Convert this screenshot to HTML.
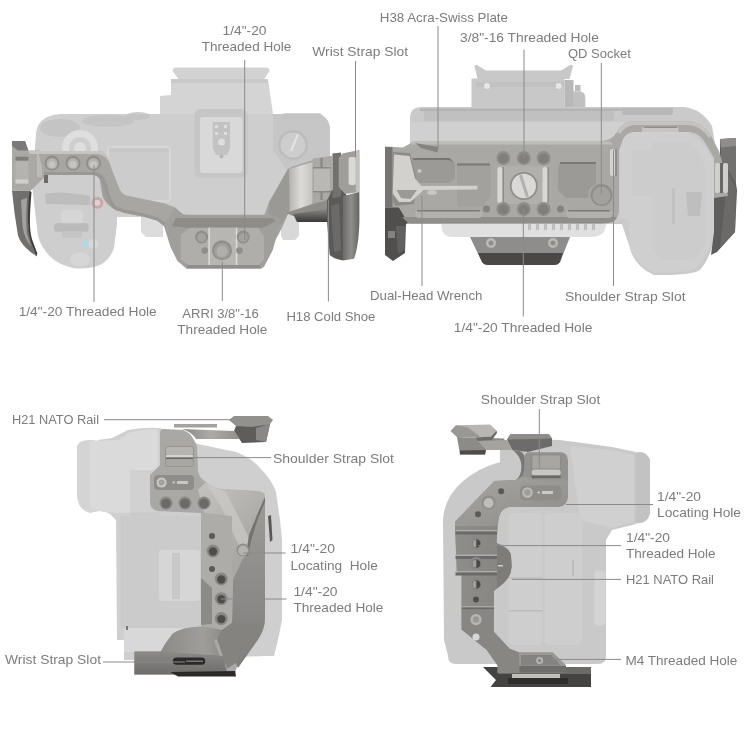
<!DOCTYPE html>
<html><head><meta charset="utf-8"><title>Cage diagram</title>
<style>
html,body{margin:0;padding:0;background:#fff;}
body{width:750px;height:750px;overflow:hidden;font-family:"Liberation Sans",sans-serif;}
svg{display:block;}
</style></head><body>
<svg width="750" height="750" viewBox="0 0 750 750">
<rect width="750" height="750" fill="#fff"/>
<g id="tl">
<path d="M172.5,71 Q172.5,67.5 176,67.5 L266,67.5 Q269.5,67.5 269.5,71 L263,81 L180,81 Z" fill="#d2d2d2"/>
<path d="M171,79 L268,79 L273,114 L160,114 L160,96 L171,95 Z" fill="#d4d4d4"/>
<rect x="171" y="79" width="97" height="4" fill="#c2c2c2" opacity="0.6"/>
<path d="M36,134 Q37,116 60,114 L316,114 Q330,115 330,132 L330,158 L300,170 L300,217 L117,217 L117,224 L114,248 Q110,260 100,265 Q86,270 73,268 Q60,265 53,259 Q42,250 38,236 L32,185 Z" fill="#cecece"/>
<ellipse cx="60" cy="128" rx="20" ry="9" fill="#c2c2c2" opacity="0.8"/>
<ellipse cx="108" cy="121" rx="26" ry="6" fill="#c2c2c2" opacity="0.8"/>
<ellipse cx="138" cy="116" rx="12" ry="4" fill="#c2c2c2" opacity="0.8"/>
<circle cx="80" cy="148" r="18" fill="#dedede"/>
<circle cx="80" cy="148" r="11" fill="#cecece"/>
<circle cx="80" cy="148" r="6" fill="#dedede"/>
<path d="M45,194 Q60,190 90,196 L90,205 L46,204 Z" fill="#bdbdbd"/>
<rect x="60.7" y="210" width="22.6" height="14" rx="5" fill="#d6d6d6"/>
<rect x="54" y="223.3" width="34.7" height="8.5" rx="3" fill="#bababa"/>
<rect x="62" y="231" width="20" height="7" rx="3" fill="#c4c4c4"/>
<circle cx="97.3" cy="202.7" r="6" fill="#c9a8a8"/>
<circle cx="97.3" cy="202.7" r="3" fill="#e6cfcf"/>
<circle cx="84.7" cy="243.3" r="3" fill="#a8dcee"/>
<ellipse cx="93.3" cy="244" rx="5" ry="5" fill="#d8d8d8"/>
<ellipse cx="80" cy="259.5" rx="10" ry="7" fill="#d6d6d6"/>
<rect x="107" y="146" width="64" height="56" rx="4" fill="#d6d6d6"/><rect x="109" y="148" width="60" height="52" rx="3" fill="#cccccc"/>
<rect x="109" y="148" width="60" height="4" rx="2" fill="#c2c2c2" opacity="0.5"/>
<rect x="194.5" y="109" width="53" height="69" rx="6" fill="#c6c6c6"/>
<rect x="200" y="117" width="42.5" height="56" rx="3" fill="#d9d9d9"/>
<path d="M212.7,122 L230,122 L230,148 L227,155 L216,155 L212.7,148 Z" fill="#c2c2c2"/>
<rect x="215" y="125" width="3" height="3" fill="#dedede"/><rect x="224" y="125" width="3" height="3" fill="#dedede"/>
<rect x="215" y="132" width="3" height="3" fill="#dedede"/><rect x="224" y="132" width="3" height="3" fill="#dedede"/>
<circle cx="221.5" cy="142" r="3.5" fill="#dedede"/>
<circle cx="221.5" cy="156.5" r="2" fill="#b6b6b6"/>
<path d="M273,114 L316,114 Q330,115 330,132 L330,158 L300,170 L288,172 L273,150 Z" fill="#c6c6c6"/>
<circle cx="293" cy="145" r="15" fill="#bcbcbc"/>
<circle cx="293" cy="145" r="12.5" fill="#cdcdcd"/>
<line x1="291" y1="151" x2="298" y2="134" stroke="#e4e4e4" stroke-width="2"/>
<rect x="282" y="113" width="40" height="6" rx="3" fill="#c2c2c2" opacity="0.7"/>
<path d="M141,217 L163,217 L163,237 L146,237 L141,232 Z" fill="#dcdcdc"/>
<path d="M281,212 L299,212 L299,236 L295,240 L283,240 L281,236 Z" fill="#d8d8d8"/>
<path d="M12,190.5 L31,190.5 Q29,205 28.4,221.7 Q28.6,232 31,239 L37,254.6 L37,256.5 Q30,252 25.8,247.7 Q20,242 18,235.5 L14.5,213 Z" fill="#716f6d"/>
<path d="M21,200 L27,198 Q25.5,222 27,234 L31,246 Q24,238 22.5,226 Z" fill="#a3a19e"/>
<path d="M29.5,192 L31.5,192 Q29.5,215 30,226 Q30.5,236 33,242 L37.5,254 L36,254.5 L31,242 Q28,232 28,222 Q28,205 29.5,192 Z" fill="#3c3a38"/>
<path d="M12,141 L25,141 L28.4,150.6 L40,150.6 L44.5,177 L31,190.5 L12,190.5 Z" fill="#aaa9a6"/>
<path d="M12,141 L25,141 L28.4,150.6 L18,150.6 L12,146 Z" fill="#7c7a78"/>
<rect x="15.4" y="156.7" width="13" height="26.8" rx="1.5" fill="#b4b3b0"/>
<rect x="15.4" y="156.7" width="13" height="4" fill="#807e7b"/>
<rect x="15.4" y="179.5" width="13" height="4" fill="#d0cfcc"/>
<rect x="37" y="151" width="5" height="26" fill="#c0bfbc" opacity="0.8"/>
<path d="M28,151 L100,151 Q105,152 108,158 L112,170 L120,190 Q122,194 125.3,195.3 L164,203.3 L174.7,207.3 L182.7,214 L190,216 L190,240 L170.7,236.7 L164,226 L157.3,220.7 L144,216.7 L124,212.7 L115,210 Q109,205 107,196 L103,184 Q100,176 94,175 L44,175 L38,151 Z" fill="#a7a6a3"/>
<path d="M28,151 L100,151 Q105,152 108,158 L110,164 Q106,155 98,154 L30,154 Z" fill="#c6c5c2"/>
<path d="M44,175 L94,175 Q99,176 100,180.7 L102.7,196.7 Q106,204 113.3,208.7 L124,212.7 L144,216.7 L157.3,220.7 L164,226 L166,223 L158,217.5 L144,213.5 L125,209.5 L117,207 Q112,203 110,195 L106,182 Q103,172.5 95,172 L44,172 Z" fill="#969592" opacity="0.85"/>
<rect x="44" y="175" width="4" height="8" fill="#6e6c6a"/>
<circle cx="52" cy="163" r="7.5" fill="#8f8e8b"/>
<circle cx="52" cy="163.5" r="5.5" fill="#b3b2af"/>
<circle cx="52" cy="164.5" r="3.5" fill="#c6c5c2"/>
<circle cx="73" cy="163" r="7.5" fill="#8f8e8b"/>
<circle cx="73" cy="163.5" r="5.5" fill="#b3b2af"/>
<circle cx="73" cy="164.5" r="3.5" fill="#c6c5c2"/>
<circle cx="93.5" cy="163" r="7.5" fill="#8f8e8b"/>
<circle cx="93.5" cy="163.5" r="5.5" fill="#b3b2af"/>
<circle cx="93.5" cy="164.5" r="3.5" fill="#c6c5c2"/>
<defs><linearGradient id="tlP" x1="0" y1="0" x2="1" y2="0"><stop offset="0" stop-color="#6e6c6a"/><stop offset="0.5" stop-color="#908e8b"/><stop offset="1" stop-color="#676563"/></linearGradient><linearGradient id="tlS" x1="0" y1="0" x2="0" y2="1"><stop offset="0" stop-color="#8a8886"/><stop offset="1" stop-color="#3a3836"/></linearGradient><linearGradient id="tlH" x1="0" y1="0" x2="1" y2="0"><stop offset="0" stop-color="#b4b3b0"/><stop offset="0.5" stop-color="#dcdbd9"/><stop offset="1" stop-color="#c4c3c0"/></linearGradient></defs>
<path d="M264,216 L269,202 L288,169 Q292,166 298,165 L319,158 L332,156 L332,200 L312,206 L300,210 L288,214 L282,228 L270,250 Z" fill="#a5a4a1"/>
<path d="M269,203 L288,169 L290,169 L289,212 L281,224 L268,228 Z" fill="#9a9996"/>
<path d="M289,169 L312.6,162 L312.6,206 L290,212 Z" fill="url(#tlH)"/>
<path d="M312.6,158.5 L331.5,156 L331.5,199.4 L312.6,204 Z" fill="#aaa9a6"/>
<path d="M314,168 L330,166 L330,190 L314,193 Z" fill="#b9b8b5"/>
<rect x="313" y="167" width="18" height="1.5" fill="#8a8886"/>
<rect x="313" y="191" width="18" height="1.5" fill="#8a8886"/>
<rect x="320.5" y="158" width="2" height="9" fill="#85837f"/>
<rect x="320.5" y="192" width="2" height="8" fill="#85837f"/>
<path d="M286,213 L312.6,204 L332,199 L332,212 L293,216 Z" fill="#8f8d8a"/>
<path d="M332,190 L346,190 L346,200 L327,201 Z" fill="#5c5a58"/>
<path d="M293,214 L327,209 L327,222 L297,222 Z" fill="url(#tlS)"/>
<path d="M332.4,153.5 L341,152.5 L341,197 L332.4,199 Z" fill="#73716f"/>
<path d="M338.7,158 L342.3,153.5 L359.4,150 L359.4,192 L345,194 L338.7,186.8 Z" fill="#a09e9b"/>
<rect x="348.6" y="157" width="7.2" height="28" rx="2" fill="#dad9d7"/>
<rect x="355.8" y="151" width="3.6" height="41" fill="#c2c1be"/>
<path d="M327,199.4 L343,196 L343,260.5 Q334,259 329.7,255 L327,221 Z" fill="#5c5a58"/>
<path d="M343,196 L359.4,192 L359.4,221 Q359,240 355.8,253.3 L354,258.7 L343,260.5 Z" fill="url(#tlP)"/>
<path d="M331,206 L339,203 L341,250 L334,252 Z" fill="#6c6a68"/>
<path d="M164,226 L174.7,207.3 L182.7,214.7 L271,214.7 L281.3,219 L272.7,250.3 L264,266.7 Q262,268.5 258.8,268.5 L187.7,268.5 Q185,268 184.3,266.7 L177.3,260.7 L170.4,246.8 Z" fill="#a09f9c"/>
<path d="M176,218 L272,218 L276,221 L262,228 L188,228 L172,226 Z" fill="#8d8c89"/>
<path d="M190.3,227.7 L258,227.7 L264,236.4 L264,259 L258.8,265 L187.7,265 L180.8,259 L180.8,234.7 Z" fill="#afaeab"/>
<path d="M187.7,265 L258.8,265 L262,268.5 L186,268.5 Z" fill="#8f8e8b"/>
<rect x="209.4" y="227.7" width="27" height="37.3" fill="#b7b6b3"/>
<rect x="208.4" y="227.7" width="1.5" height="37.3" fill="#dddcda"/>
<rect x="235.8" y="227.7" width="1.5" height="37.3" fill="#dddcda"/>
<circle cx="201.6" cy="237" r="6.5" fill="#8f8e8b"/>
<circle cx="201.6" cy="237.5" r="4.5" fill="#a3a29f"/>
<circle cx="243.2" cy="237" r="6.5" fill="#8f8e8b"/>
<circle cx="243.2" cy="237.5" r="4.5" fill="#a3a29f"/>
<circle cx="222" cy="250.3" r="10" fill="#8f8e8b"/>
<circle cx="222" cy="250.8" r="8" fill="#a09f9c"/>
<circle cx="222" cy="251.3" r="5.5" fill="#b0afac"/>
<circle cx="204.7" cy="250.6" r="3.3" fill="#8f8e8b"/>
<circle cx="239.4" cy="250.6" r="3.3" fill="#8f8e8b"/>
</g>
<g id="tr">
<path d="M474.5,66 Q475,64.5 477,65 L486,70.5 L561,70.5 L570,65 Q572.5,64.5 573,66 L569.5,79 L477.5,79 Z" fill="#c8c8c8"/>
<rect x="471.5" y="78.5" width="93" height="29" fill="#c8c8c8"/>
<rect x="564.5" y="80" width="9" height="27.5" fill="#b8b8b8"/>
<path d="M573,91.3 L580,91.3 Q585.3,92 585.3,98 L585.3,107 L573,107 Z" fill="#c0c0c0"/>
<rect x="575" y="85" width="5.5" height="6" fill="#bcbcbc"/>
<rect x="476" y="82" width="88" height="5" fill="#bebebe" opacity="0.7"/>
<circle cx="487" cy="86" r="3" fill="#e6e6e6"/>
<circle cx="558.7" cy="86" r="3" fill="#e6e6e6"/>
<path d="M410,118 Q410,107 422,107 L684,107 Q702,109 712,126 L716,150 L716,215 Q716,252 700,270 Q692,275 662,275 L654,275 Q634,266 630,248 L622,224 L410,224 Z" fill="#cacaca"/>
<rect x="424" y="110" width="190" height="11" fill="#c0c0c0"/>
<rect x="420" y="108.5" width="210" height="2.5" fill="#b4b4b4"/>
<rect x="622" y="108" width="51" height="7" rx="2" fill="#b8b8b8"/>
<rect x="497" y="127" width="98" height="4" fill="#b6b6b6"/>
<rect x="410" y="122" width="280" height="19" fill="#d0d0d0"/>
<path d="M620,150 Q622,136 636,134 L688,133 Q704,140 714,163 L714,232 Q708,260 691,271 L655,273 Q637,266 630,248 L628,219 L620,219 Z" fill="#cfcfcf"/>
<path d="M652,142 L690,142 Q706,156 706,180 L706,240 Q702,256 690,260 L660,260 Q652,250 652,236 L652,196 L632,196 L632,150 L652,150 Z" fill="#cacaca" opacity="0.7"/>
<path d="M686,192 L702,192 L700,216 L688,216 Z" fill="#bebebe"/>
<rect x="672" y="188" width="3" height="36" fill="#bebebe" opacity="0.7"/>
<path d="M441,222 L607,222 L604,232 Q600,237 590,237 L452,237 Q444,237 442,230 Z" fill="#e0e0e0"/>
<rect x="528" y="224" width="3" height="6" fill="#bebebe"/>
<rect x="536" y="224" width="3" height="6" fill="#bebebe"/>
<rect x="544" y="224" width="3" height="6" fill="#bebebe"/>
<rect x="552" y="224" width="3" height="6" fill="#bebebe"/>
<rect x="560" y="224" width="3" height="6" fill="#bebebe"/>
<rect x="568" y="224" width="3" height="6" fill="#bebebe"/>
<rect x="576" y="224" width="3" height="6" fill="#bebebe"/>
<rect x="584" y="224" width="3" height="6" fill="#bebebe"/>
<rect x="592" y="224" width="3" height="6" fill="#bebebe"/>
<path d="M470,237 L570,237 L560,262 Q558,265 554,265 L488,265 Q484,265 482,262 Z" fill="#8f8d8b"/>
<path d="M478,253 L563,253 L560,262 Q558,265 554,265 L488,265 Q484,265 482,262 Z" fill="#4a4846"/>
<circle cx="491" cy="243" r="5" fill="#bab9b6"/>
<circle cx="553" cy="243" r="5" fill="#bab9b6"/>
<circle cx="491" cy="243" r="2.5" fill="#8f8e8b"/>
<circle cx="553" cy="243" r="2.5" fill="#8f8e8b"/>
<path d="M720,139 L736,138 L736,184 L737,190 L735,232 L717,252 L711,255 L714,232 L714,194 L720,186 Z" fill="#5f5d5b"/>
<path d="M720,139 L736,138 L736,146 L721,148 Z" fill="#8f8d8a"/>
<path d="M721,148 L736,146 L736,184 L728,170 L721,186 Z" fill="#73716f"/>
<path d="M728,172 L736,188 L735,232 L720,248 Z" fill="#6c6a68"/>
<path d="M385,207 L399,207 L409,223 L406,224 L405,253 L393,261 L385,255 Z" fill="#514f4d"/>
<rect x="388" y="231" width="7" height="7" fill="#84827f"/>
<path d="M396,226 L405,226 L405,250 L398,254 Z" fill="#62605e"/>
<path d="M600,141 Q612,141 617,132 Q622,122 632,121.5 L691,121.5 Q704,124 711,136 L719,151 L722,161 L728,196 L714,198 L714,158 L704,141 Q698,132 688,132 L634,132 Q626,133 623,139 L619,150 L619,212 L600,212 Z" fill="#a9a8a5"/>
<path d="M617,132 Q622,122 632,121.5 L691,121.5 Q704,124 711,136 L709,138 Q702,127 690,125 L634,125 Q625,126 620,134 Z" fill="#c4c3c0"/>
<path d="M642,129 Q642,126.5 646,126.5 L675,126.5 Q678.5,126.5 678.5,129 L678.5,132 L642,132 Z" fill="#c6c5c2"/>
<rect x="644" y="126.5" width="33" height="1.5" fill="#8f8e8b"/>
<rect x="715" y="163" width="5" height="30" rx="2" fill="#d0cfcc"/>
<rect x="720" y="163" width="3" height="30" fill="#6a6866"/>
<rect x="723" y="163" width="5" height="30" rx="2" fill="#d0cfcc"/>
<path d="M385,146.5 L403,147.5 L414,141.5 L610,141.5 L619,150 L619,211 Q617,223.5 603,223.5 L408.5,223.5 L399,207.5 L385,207.5 Z" fill="#a9a8a5"/>
<path d="M414,141.5 L610,141.5 L613,144.5 L411,144.5 Z" fill="#bebdba"/>
<path d="M402,217 L617,217 Q615,223.5 603,223.5 L408.5,223.5 Z" fill="#8f8e8b"/>
<rect x="385" y="147" width="7.5" height="60" fill="#777573"/>
<path d="M415,143 L438.5,147 L437.5,152.5 L421,148 Z" fill="#858481"/>
<path d="M412,158 L449.5,158 L455,163.5 L455,178.5 L449.5,183 L418,183 L413,171 Z" fill="#9b9a97"/>
<path d="M412,158 L449.5,158 L455,163.5 L453,162 L449,160 L414,160 Z" fill="#767572"/>
<path d="M457,163.5 L487,163.5 L491,167 L491,195 L483,206.5 L457,206.5 Z" fill="#a2a19e"/>
<rect x="457" y="163.5" width="33" height="2" fill="#7a7976"/>
<path d="M558,168 Q558,162 564,162 L596,162 L596,184 Q588,186 588,198 L566,198 L558,190 Z" fill="#9b9a97"/>
<rect x="560" y="162" width="36" height="2" fill="#7a7976"/>
<rect x="415" y="210" width="67.5" height="8" rx="4" fill="#b2b1ae"/>
<rect x="417" y="210" width="63" height="1.5" rx="0.7" fill="#7a7976"/>
<rect x="566" y="210" width="46" height="8" rx="4" fill="#b2b1ae"/>
<rect x="568" y="210" width="42" height="1.5" rx="0.7" fill="#7a7976"/>
<path d="M392.5,152 L410,153 L416,178 L414,204 L395,206 L392.5,200 Z" fill="#8d8c89"/>
<path d="M394,154.5 L409.5,156 L415,178.5 L421.5,186 L477.5,185.7 L477.5,189.4 L423.5,190 L410.5,202 L399,202 L392.7,193.5 Z" fill="#d2d1ce"/>
<path d="M396.5,190 L417,190 L410.5,199 L401,198 Z" fill="#9a9996"/>
<circle cx="419.5" cy="171" r="2" fill="#c8c7c4"/>
<ellipse cx="432" cy="192.5" rx="5" ry="2.5" fill="#c8c7c4"/>
<rect x="497" y="166" width="52" height="38" fill="#b1b0ad"/>
<rect x="497.5" y="167" width="5" height="36" rx="2.5" fill="#d8d7d4"/>
<rect x="502.5" y="167" width="1.5" height="36" fill="#8f8e8b"/>
<rect x="542.5" y="167" width="5" height="36" rx="2.5" fill="#d8d7d4"/>
<rect x="547.5" y="167" width="1.5" height="36" fill="#8f8e8b"/>
<circle cx="503.4" cy="158" r="7" fill="#8f8e8b"/>
<circle cx="503.4" cy="158.5" r="5" fill="#807f7c"/>
<circle cx="503.4" cy="209" r="7" fill="#8f8e8b"/>
<circle cx="503.4" cy="209.5" r="5" fill="#807f7c"/>
<circle cx="523.8" cy="158" r="7" fill="#8f8e8b"/>
<circle cx="523.8" cy="158.5" r="5" fill="#807f7c"/>
<circle cx="523.8" cy="209" r="7" fill="#8f8e8b"/>
<circle cx="523.8" cy="209.5" r="5" fill="#807f7c"/>
<circle cx="543.6" cy="158" r="7" fill="#8f8e8b"/>
<circle cx="543.6" cy="158.5" r="5" fill="#807f7c"/>
<circle cx="543.6" cy="209" r="7" fill="#8f8e8b"/>
<circle cx="543.6" cy="209.5" r="5" fill="#807f7c"/>
<circle cx="486.5" cy="209" r="3.5" fill="#84837f"/>
<circle cx="560.5" cy="209" r="3.5" fill="#84837f"/>
<circle cx="523.8" cy="186" r="14" fill="#8f8e8b"/>
<circle cx="523.8" cy="186" r="12.2" fill="#dad9d7"/>
<line x1="520.5" y1="175" x2="527.5" y2="197" stroke="#b2b1ae" stroke-width="3"/>
<circle cx="601.5" cy="195" r="11" fill="#8f8e8b"/>
<circle cx="601.5" cy="195.5" r="9" fill="#a3a29f"/>
<rect x="610" y="149" width="5" height="27" rx="2" fill="#d4d3d0"/>
<rect x="615" y="149" width="2" height="27" fill="#8f8e8b"/>
</g>
<g id="bl">
<path d="M77,446 Q80,439 92,440 L99,441 L99,511 L90,513 Q78,510 77,496 Z" fill="#d4d4d4"/>
<path d="M98,440 L112,438 L128,430 Q145,427 160,428 L198,444 L236,452 Q252,458 260,468 Q272,480 276,492 L280,520 L282,540 L282,620 L278,640 L274,656 L264,656 L160,660 L124,660 L124,640 L117,640 L116,520 L110,514 L98,508 Z" fill="#cfcfcf"/>
<path d="M90,441 L119,440 L128,433 Q145,428 158,429.5 L158,512 L119,513 L103,512 L90,508 Z" fill="#dadada"/>
<rect x="120.7" y="516" width="80" height="112" fill="#cbcbcb"/>
<rect x="159" y="550" width="41" height="51" rx="3" fill="#d6d6d6"/>
<rect x="172" y="553" width="8" height="46" fill="#c8c8c8"/>
<rect x="124" y="628" width="78" height="24" fill="#d8d8d8"/>
<rect x="126" y="626" width="2" height="4" fill="#777"/>
<path d="M130,470 L160,470 L160,516 L130,516 Z" fill="#c4c4c4" opacity="0.4"/>
<path d="M268,516 L271,515 L272.5,540 L270,542 Z" fill="#5a5856"/>
<defs><linearGradient id="blA" x1="0" y1="0" x2="1" y2="1"><stop offset="0" stop-color="#c4c3c0"/><stop offset="1" stop-color="#a3a29f"/></linearGradient><linearGradient id="blB" x1="0" y1="0" x2="0" y2="1"><stop offset="0" stop-color="#9c9b98"/><stop offset="1" stop-color="#807e7c"/></linearGradient><linearGradient id="blC" x1="0" y1="0" x2="1" y2="0"><stop offset="0" stop-color="#8a8886"/><stop offset="0.5" stop-color="#adaba8"/><stop offset="1" stop-color="#8f8d8a"/></linearGradient></defs>
<path d="M234,431 L236,426 L270,424 L266,442 L242,443 Z" fill="#5f5d5b"/>
<path d="M256,428 L270,424 L266,442 L256,440 Z" fill="#8a8886"/>
<path d="M229,420 L234,416 L268,416 L273,420 L270,424 L252,427 L236,426 Z" fill="#93918e"/>
<rect x="174" y="424" width="43" height="3.5" fill="#a3a29f"/>
<path d="M182,429 L234,431 L240,439 L196,439 Q192,432 182,429 Z" fill="url(#blC)"/>
<path d="M160,433 Q160,429 164,429 L183,430 Q190,432 194,440 L197,446 L198,471 Q199,478 206,482 Q212,488 220,489 L258,491 Q265,492 265,500 L265,618 Q265,630 257,641 L240,660 L234,674.4 L134.4,674.4 L134.4,651.6 L160.8,651.6 L165.6,643.2 L172.8,633.6 Q182,627 201.6,626.4 L201,513 L158,511 Q150,510 150,501 L150,475 L160,465 Z" fill="#a9a8a5"/>
<path d="M206,482 Q212,488 220,489 L258,491 Q265,492 265,496 Q256,517 249,535 L246,555 L242,560 L232,560 L232,516 L204,513 L198,490 Z" fill="url(#blA)"/>
<path d="M206,484 L226,492 L250,540 L246,556 L236,540 L222,508 Z" fill="#cbcac7" opacity="0.7"/>
<path d="M265,497 Q256,517 249,535 L246,555 L242,560 L233,580 L232,623 L225,636 L238,668 L257,641 Q265,630 265,618 Z" fill="url(#blB)"/>
<path d="M265,497 Q256,517 249,535 L246,555 L248,556 Q252,530 265,502 Z" fill="#75736f"/>
<path d="M201,513 L232,516 L232,560 L233,580 L232,623 L222,630 L201,625 Z" fill="#aeaca9"/>
<path d="M201,578 L212,588 L212,624 L201,625 Z" fill="#8c8b88"/>
<defs><linearGradient id="blD" x1="0" y1="0" x2="1" y2="0"><stop offset="0" stop-color="#8c8a87"/><stop offset="0.55" stop-color="#a09e9b"/><stop offset="1" stop-color="#7a7876"/></linearGradient><linearGradient id="blE" x1="0" y1="0" x2="0" y2="1"><stop offset="0" stop-color="#8c8a87"/><stop offset="1" stop-color="#6f6d6b"/></linearGradient></defs>
<path d="M160.8,651.6 L165.6,643.2 L172.8,633.6 Q182,627 201.6,626.4 L222,630 L232,623 L240,660 L225.6,669.6 L160,664 Z" fill="url(#blD)"/>
<path d="M216,640.8 L222,630 L232,623 L262,624 Q258,640 240,660 L225.6,669.6 Z" fill="#85837f"/>
<path d="M214,640 L217,639 L227,668 L224,670 Z" fill="#aaa8a5"/>
<path d="M134.4,651.6 L160.8,651.6 L224,656 L226,670 L234,674.4 L134.4,674.4 Z" fill="url(#blE)"/>
<path d="M170.4,672 L235.2,671 L236,676.5 L178,676.5 Z" fill="#2c2a28"/>
<rect x="165" y="446" width="29" height="21" rx="3" fill="#98968f"/>
<rect x="166" y="447" width="27" height="8" rx="2" fill="#b6b4b1"/>
<rect x="166" y="455" width="27" height="2.5" fill="#d4d3d0"/>
<rect x="166" y="457.5" width="27" height="1.5" fill="#6a6866"/>
<rect x="166" y="459" width="27" height="7" rx="2" fill="#a9a7a4"/>
<rect x="154" y="475" width="40" height="15" rx="4" fill="#8f8d8a"/>
<circle cx="161.6" cy="482.6" r="5" fill="#c9c8c5"/>
<circle cx="161.6" cy="482.6" r="3" fill="#a5a3a0"/>
<rect x="177" y="481" width="11" height="3" fill="#d6d4d1" opacity="0.8"/>
<path d="M172,482.5 L174.5,481 L174.5,484 Z" fill="#d6d4d1"/>
<circle cx="166" cy="503" r="6.5" fill="#8a8886"/>
<circle cx="166" cy="503.5" r="4.8" fill="#6c6a68"/>
<circle cx="185" cy="503" r="6.5" fill="#8a8886"/>
<circle cx="185" cy="503.5" r="4.8" fill="#6c6a68"/>
<circle cx="204" cy="503" r="6.5" fill="#8a8886"/>
<circle cx="204" cy="503.5" r="4.8" fill="#6c6a68"/>
<circle cx="212" cy="536" r="3" fill="#5b5957"/>
<circle cx="212" cy="569" r="3" fill="#5b5957"/>
<circle cx="213" cy="551" r="6.5" fill="#8a8886"/>
<circle cx="213" cy="551.5" r="4.2" fill="#4f4d4b"/>
<circle cx="221.3" cy="579" r="6.5" fill="#8a8886"/>
<circle cx="221.3" cy="579.5" r="4.2" fill="#4f4d4b"/>
<circle cx="221.3" cy="598.7" r="6.5" fill="#8a8886"/>
<circle cx="221.3" cy="599.2" r="4.2" fill="#4f4d4b"/>
<circle cx="221.3" cy="618.6" r="6.5" fill="#8a8886"/>
<circle cx="221.3" cy="619.1" r="4.2" fill="#4f4d4b"/>
<circle cx="243" cy="550" r="6.5" fill="#8f8d8a"/>
<circle cx="243" cy="550.5" r="5" fill="#b5b3b0"/>
<rect x="172.8" y="657.6" width="32.4" height="7.2" rx="3.6" fill="#2c2a28"/>
<rect x="186" y="660.5" width="17" height="1.5" fill="#777573"/>
</g>
<g id="br">
<defs><linearGradient id="brA" x1="0" y1="0" x2="1" y2="1"><stop offset="0" stop-color="#a6a5a2"/><stop offset="1" stop-color="#8d8c89"/></linearGradient><linearGradient id="brB" x1="0" y1="0" x2="1" y2="0"><stop offset="0" stop-color="#8e8d8a"/><stop offset="1" stop-color="#858481"/></linearGradient></defs>
<path d="M634,453 Q646,449 650,460 L650,514 Q647,525 634,523 Z" fill="#c2c2c2"/>
<path d="M500,444 Q520,438 560,440 L612,447 L636,452 L636,524 L612,530 L606,540 L606,656 Q606,664 598,664 L456,664 Q448,664 448,656 L444,640 L443,520 Q444,498 462,482 Q478,468 500,462 Z" fill="#c9c9c9"/>
<path d="M570,446 L612,450 L634,455 L634,522 L612,528 L580,520 Z" fill="#d6d6d6" opacity="0.55"/>
<rect x="508.4" y="513" width="34" height="132" rx="5" fill="#cecece"/>
<rect x="544.4" y="513" width="37.5" height="132" rx="5" fill="#cecece"/>
<rect x="508.4" y="577" width="34" height="1.5" fill="#bcbcbc"/>
<rect x="508.4" y="610" width="34" height="1.5" fill="#bcbcbc"/>
<rect x="594.4" y="570.4" width="11" height="55" rx="3" fill="#d4d4d4"/>
<rect x="572" y="560" width="2" height="16" fill="#bcbcbc"/>
<path d="M483,667 L591,667 L591,687 L490.5,687 L496,680 Z" fill="#454341"/>
<rect x="498" y="667" width="93" height="7" fill="#6c6a68"/>
<rect x="512" y="674" width="48" height="4" fill="#c0bebb"/>
<rect x="508" y="678" width="60" height="6" fill="#2f2d2b"/>
<path d="M457,437 L504,438.5 L508,449 L486,450 L485,454.5 L460,454.5 Z" fill="#8d8b88"/>
<path d="M460,450.5 L486,450 L485,454.5 L460,454.5 Z" fill="#4f4d4b"/>
<path d="M450.7,431 L456,425.2 L490,424.6 L496.5,430.4 L491,436.5 L476,437.5 L457,437 Z" fill="#b8b6b3"/>
<path d="M456,425.2 L468,427.5 L480,436.5 L476,437.5 L457,437 L450.7,431 Z" fill="#9a9895"/>
<path d="M476,437.5 L491,436.5 L496.5,430.4 L497,433 L492,440 L478,441 Z" fill="#6e6c6a"/>
<path d="M478,441 L507,440 L512.5,450 L486,450 Z" fill="#a5a3a0"/>
<path d="M507,439.5 L510.4,434.2 L548.8,434.2 L552,438.5 L552,446 L528,452 L512.5,450 Z" fill="#6e6c6a"/>
<path d="M510.4,434.2 L548.8,434.2 L552,438.5 L508,439.5 Z" fill="#8f8d8a"/>
<path d="M524.3,457 Q524.5,452.3 529.6,452.3 L561,452.3 Q568,453 568,461 L568,496 Q567,506.7 558.4,506.7 L510.4,506.7 Q501,508 499,517 L497.6,526 L496.5,543 Q510.4,548 511,556 L511.5,567 Q511,578 500,586 L494,591 L494,632 L509.6,648.8 L519.2,652.4 L552.8,652.4 L566,665.6 L566,672.8 L497.6,672.8 L497.6,665.6 L486.8,650 L461.6,629.6 L461.6,574.4 L456.8,571 L455,521.7 L494.4,481 L515.7,480 Q521,478 521.5,470 Z" fill="#939290"/>
<path d="M512.5,450 Q521,456 521.5,466 Q521.5,476 515.7,480 L518,480 Q524.5,476 524.3,466 L524.3,457 Q524,452 519,451 Z" fill="#7a7876"/>
<path d="M455,521.7 L494.4,481 L515.7,480 L521,477 L568,480 L568,496 Q567,506.7 558.4,506.7 L510.4,506.7 Q501,508 499,517 L497.6,526 L455,526 Z" fill="url(#brA)"/>
<path d="M455,526 L497.6,526 L496.5,543 Q510.4,548 511,556 L511.5,567 Q511,578 500,586 L494,591 L494,606.8 L461.6,606.8 L461.6,574.4 L456.8,571 Z" fill="url(#brB)"/>
<path d="M497,545 Q510.4,549 511,556 L511.5,567 Q511,578 500,586 L497,588 Z" fill="#7d7c79"/>
<rect x="498" y="565" width="5" height="1.5" fill="#d0cecb"/>
<rect x="455.5" y="530" width="41.5" height="1.5" fill="#b0aeab"/>
<rect x="455.5" y="531.5" width="41.5" height="3" fill="#6c6a68"/>
<rect x="455.5" y="554.5" width="41.5" height="1.5" fill="#b0aeab"/>
<rect x="455.5" y="556.0" width="41.5" height="3" fill="#6c6a68"/>
<rect x="455.5" y="571" width="41.5" height="1.5" fill="#b0aeab"/>
<rect x="455.5" y="572.5" width="41.5" height="3" fill="#6c6a68"/>
<rect x="461.6" y="606" width="32.4" height="1.5" fill="#a8a6a3"/>
<rect x="461.6" y="607.5" width="32.4" height="2" fill="#6c6a68"/>
<path d="M461.6,609.5 L494,609.5 L494,632 L509.6,648.8 L519.2,652.4 L519.2,672.8 L497.6,672.8 L497.6,665.6 L486.8,650 L461.6,629.6 Z" fill="#878683"/>
<rect x="530.7" y="454.5" width="31" height="25" rx="2" fill="#8f8d8a"/>
<rect x="532.5" y="455.5" width="27.5" height="13" fill="#a8a6a3"/>
<rect x="531.7" y="469.4" width="29" height="6" rx="2.5" fill="#c8c6c3"/>
<rect x="531.7" y="475.4" width="29" height="2.6" rx="1" fill="#6a6866"/>
<rect x="520" y="485.4" width="41.6" height="15" rx="4.5" fill="#8f8d8a"/>
<circle cx="527.5" cy="492.5" r="5.3" fill="#bdbbb8"/>
<circle cx="527.5" cy="492.5" r="3.3" fill="#a09e9b"/>
<rect x="542" y="491" width="11" height="3" fill="#d6d4d1" opacity="0.85"/>
<path d="M537,492.5 L539.5,491 L539.5,494 Z" fill="#d6d4d1"/>
<circle cx="501.2" cy="491.2" r="3" fill="#5b5957"/>
<circle cx="478" cy="514.2" r="3" fill="#5b5957"/>
<circle cx="488.6" cy="502.5" r="7" fill="#8f8d8a"/>
<circle cx="488.6" cy="503" r="5" fill="#c0bebb"/>
<circle cx="476.3" cy="543" r="6.5" fill="#8a8886"/>
<circle cx="476.3" cy="543.5" r="4.2" fill="#4a4846"/>
<path d="M476.3,539.5 A4,4 0 0 0 476.3,547.5 Z" fill="#b5b3b0" opacity="0.8"/>
<circle cx="476.3" cy="563.3" r="6.5" fill="#8a8886"/>
<circle cx="476.3" cy="563.8" r="4.2" fill="#4a4846"/>
<path d="M476.3,559.8 A4,4 0 0 0 476.3,567.8 Z" fill="#b5b3b0" opacity="0.8"/>
<circle cx="476.3" cy="584" r="6.5" fill="#8a8886"/>
<circle cx="476.3" cy="584.5" r="4.2" fill="#4a4846"/>
<path d="M476.3,580.5 A4,4 0 0 0 476.3,588.5 Z" fill="#b5b3b0" opacity="0.8"/>
<circle cx="476" cy="599.6" r="3" fill="#4f4d4b"/>
<circle cx="476" cy="619" r="7.5" fill="#8a8886"/>
<circle cx="476" cy="619.5" r="5.5" fill="#b8b6b3"/>
<circle cx="476" cy="619.5" r="3.2" fill="#9a9895"/>
<circle cx="476" cy="637" r="3.5" fill="#d8d7d5"/>
<path d="M519.2,652.4 L552.8,652.4 L566,665.6 L566,672.8 L519.2,672.8 Z" fill="#9a9895"/>
<path d="M521,655 L551,655 L561,665.6 L521,665.6 Z" fill="#858381"/>
<path d="M519.2,666 L566,666 L566,672.8 L519.2,672.8 Z" fill="#6f6d6b"/>
<circle cx="539.6" cy="660.5" r="3.5" fill="#b8b6b3"/>
<circle cx="539.6" cy="660.5" r="1.8" fill="#8a8886"/>
</g>
<g id="leaders">
<line x1="244.7" y1="60" x2="244.7" y2="240" stroke="#8a8a8a" stroke-width="1"/>
<line x1="355.5" y1="61" x2="355.5" y2="157" stroke="#8a8a8a" stroke-width="1"/>
<line x1="94" y1="165" x2="94" y2="302" stroke="#8a8a8a" stroke-width="1"/>
<line x1="222.3" y1="262" x2="222.3" y2="301" stroke="#8a8a8a" stroke-width="1"/>
<line x1="328.4" y1="199.5" x2="328.4" y2="301.5" stroke="#8a8a8a" stroke-width="1"/>
<line x1="438" y1="26" x2="438" y2="147" stroke="#8a8a8a" stroke-width="1"/>
<line x1="524" y1="49.5" x2="524" y2="158" stroke="#8a8a8a" stroke-width="1"/>
<line x1="601.3" y1="63" x2="601.3" y2="195" stroke="#8a8a8a" stroke-width="1"/>
<line x1="422" y1="196" x2="422" y2="286" stroke="#8a8a8a" stroke-width="1"/>
<line x1="523.3" y1="209" x2="523.3" y2="316.5" stroke="#8a8a8a" stroke-width="1"/>
<line x1="613.5" y1="150" x2="613.5" y2="286" stroke="#8a8a8a" stroke-width="1"/>
<line x1="104" y1="419.7" x2="232" y2="419.7" stroke="#8a8a8a" stroke-width="1"/>
<line x1="193" y1="457.6" x2="271" y2="457.6" stroke="#8a8a8a" stroke-width="1"/>
<line x1="243" y1="553" x2="285.5" y2="553" stroke="#8a8a8a" stroke-width="1"/>
<line x1="221" y1="599" x2="286.5" y2="599" stroke="#8a8a8a" stroke-width="1"/>
<line x1="103" y1="662" x2="185" y2="662" stroke="#8a8a8a" stroke-width="1"/>
<line x1="539.3" y1="409" x2="539.3" y2="468" stroke="#8a8a8a" stroke-width="1"/>
<line x1="566" y1="504.5" x2="653" y2="504.5" stroke="#8a8a8a" stroke-width="1"/>
<line x1="478" y1="545.6" x2="621" y2="545.6" stroke="#8a8a8a" stroke-width="1"/>
<line x1="512" y1="579.4" x2="621" y2="579.4" stroke="#8a8a8a" stroke-width="1"/>
<line x1="550" y1="659.4" x2="621" y2="659.4" stroke="#8a8a8a" stroke-width="1"/>
</g>
<defs><filter id="gs" x="0" y="0" width="750" height="750" filterUnits="userSpaceOnUse" color-interpolation-filters="sRGB"><feColorMatrix type="saturate" values="0"/></filter></defs>
<g id="labels" fill="#7c7c7c" font-family="Liberation Sans, sans-serif" filter="url(#gs)">
<text x="244.5" y="35" font-size="13.3" text-anchor="middle" textLength="44" lengthAdjust="spacingAndGlyphs">1/4&quot;-20</text>
<text x="246.5" y="51" font-size="13.3" text-anchor="middle" textLength="89.5" lengthAdjust="spacingAndGlyphs">Threaded Hole</text>
<text x="312.3" y="55.7" font-size="13.3" text-anchor="start" textLength="95.7" lengthAdjust="spacingAndGlyphs">Wrist Strap Slot</text>
<text x="379.8" y="22" font-size="13.3" text-anchor="start" textLength="128.2" lengthAdjust="spacingAndGlyphs">H38 Acra-Swiss Plate</text>
<text x="460" y="41.5" font-size="13.3" text-anchor="start" textLength="138.8" lengthAdjust="spacingAndGlyphs">3/8&quot;-16 Threaded Hole</text>
<text x="568" y="57.8" font-size="13.3" text-anchor="start" textLength="62.8" lengthAdjust="spacingAndGlyphs">QD Socket</text>
<text x="18.7" y="316" font-size="13.3" text-anchor="start" textLength="138" lengthAdjust="spacingAndGlyphs">1/4&quot;-20 Threaded Hole</text>
<text x="220.6" y="318" font-size="13.3" text-anchor="middle" textLength="76.6" lengthAdjust="spacingAndGlyphs">ARRI 3/8&quot;-16</text>
<text x="222.3" y="334" font-size="13.3" text-anchor="middle" textLength="90" lengthAdjust="spacingAndGlyphs">Threaded Hole</text>
<text x="286.4" y="321" font-size="13.3" text-anchor="start" textLength="89" lengthAdjust="spacingAndGlyphs">H18 Cold Shoe</text>
<text x="370" y="299.5" font-size="13.3" text-anchor="start" textLength="112.5" lengthAdjust="spacingAndGlyphs">Dual-Head Wrench</text>
<text x="453.8" y="331.7" font-size="13.3" text-anchor="start" textLength="138.7" lengthAdjust="spacingAndGlyphs">1/4&quot;-20 Threaded Hole</text>
<text x="565" y="301" font-size="13.3" text-anchor="start" textLength="120.5" lengthAdjust="spacingAndGlyphs">Shoulder Strap Slot</text>
<text x="12" y="424.4" font-size="13.3" text-anchor="start" textLength="87" lengthAdjust="spacingAndGlyphs">H21 NATO Rail</text>
<text x="273" y="463" font-size="13.3" text-anchor="start" textLength="121" lengthAdjust="spacingAndGlyphs">Shoulder Strap Slot</text>
<text x="290.5" y="553" font-size="13.3" text-anchor="start" textLength="44.5" lengthAdjust="spacingAndGlyphs">1/4&quot;-20</text>
<text x="290.5" y="569.5" font-size="13.3" text-anchor="start" textLength="87.3" lengthAdjust="spacingAndGlyphs">Locating&#160; Hole</text>
<text x="293.4" y="595.5" font-size="13.3" text-anchor="start" textLength="44.2" lengthAdjust="spacingAndGlyphs">1/4&quot;-20</text>
<text x="293.4" y="611.5" font-size="13.3" text-anchor="start" textLength="90" lengthAdjust="spacingAndGlyphs">Threaded Hole</text>
<text x="5" y="664" font-size="13.3" text-anchor="start" textLength="96" lengthAdjust="spacingAndGlyphs">Wrist Strap Slot</text>
<text x="480.8" y="404" font-size="13.3" text-anchor="start" textLength="119.5" lengthAdjust="spacingAndGlyphs">Shoulder Strap Slot</text>
<text x="657" y="500.6" font-size="13.3" text-anchor="start" textLength="44" lengthAdjust="spacingAndGlyphs">1/4&quot;-20</text>
<text x="657" y="517" font-size="13.3" text-anchor="start" textLength="84" lengthAdjust="spacingAndGlyphs">Locating Hole</text>
<text x="626" y="541.6" font-size="13.3" text-anchor="start" textLength="44" lengthAdjust="spacingAndGlyphs">1/4&quot;-20</text>
<text x="626" y="558" font-size="13.3" text-anchor="start" textLength="89.6" lengthAdjust="spacingAndGlyphs">Threaded Hole</text>
<text x="626" y="584.4" font-size="13.3" text-anchor="start" textLength="88" lengthAdjust="spacingAndGlyphs">H21 NATO Rail</text>
<text x="625.4" y="665" font-size="13.3" text-anchor="start" textLength="112" lengthAdjust="spacingAndGlyphs">M4 Threaded Hole</text>
</g>
</svg>
</body></html>
